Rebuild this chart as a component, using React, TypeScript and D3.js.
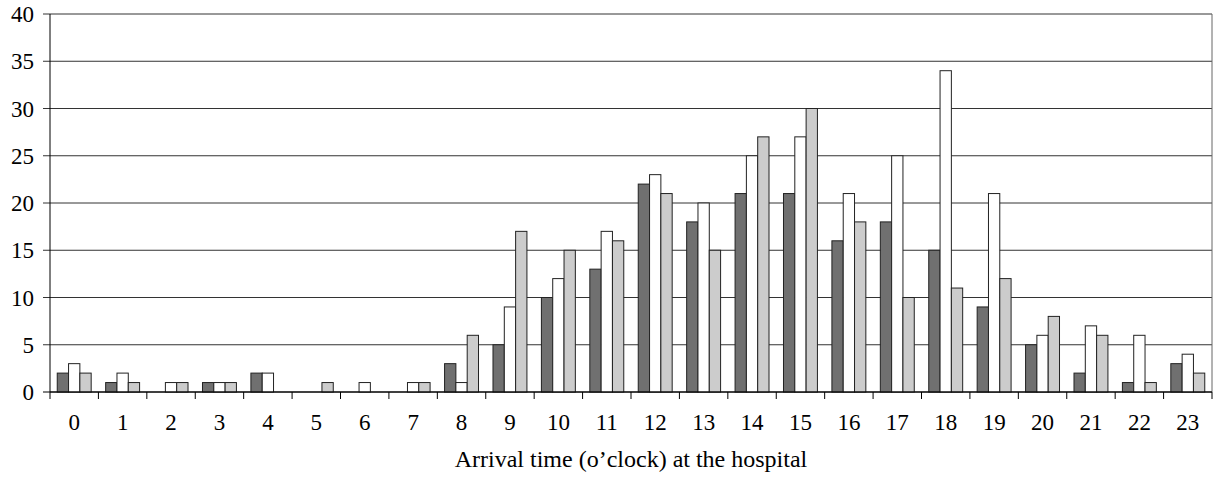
import React from "react";
import * as d3 from "d3";

const hours = ["0","1","2","3","4","5","6","7","8","9","10","11","12","13","14","15","16","17","18","19","20","21","22","23"];
const seriesA = [2,1,0,1,2,0,0,0,3,5,10,13,22,18,21,21,16,18,15,9,5,2,1,3];
const seriesB = [3,2,1,1,2,0,1,1,1,9,12,17,23,20,25,27,21,25,34,21,6,7,6,4];
const seriesC = [2,1,1,1,0,1,0,1,6,17,15,16,21,15,27,30,18,10,11,12,8,6,1,2];
const yTicks = [0,5,10,15,20,25,30,35,40];
const seriesFills = ["#707070", "#ffffff", "#cccccc"];
const xTitle = "Arrival time (o\u2019clock) at the hospital";

const W = 1215, H = 477;
const left = 50, right = 1212, top = 14, bottom = 392;
const fontFamily = "Liberation Serif, Times New Roman, DejaVu Serif, serif";
const textStyle: React.CSSProperties = { fontFamily, fontSize: "23px" };
const titleStyle: React.CSSProperties = { fontFamily, fontSize: "24px" };

export default function App() {
  const x = d3.scaleBand<string>().domain(hours).range([left, right]).paddingInner(0).paddingOuter(0);
  const inner = d3.scaleBand<number>().domain([0,1,2]).range([0, x.bandwidth()]).paddingOuter(0.64).paddingInner(0);
  const y = d3.scaleLinear().domain([0, 40]).range([bottom, top]);
  const series = [seriesA, seriesB, seriesC];

  return (
    <svg width={W} height={H} style={{ position: "absolute", left: 0, top: 0, background: "#fff" }}>
      {yTicks.map((t) => (
        <g key={t}>
          <line x1={left - 7} x2={right} y1={y(t)} y2={y(t)} stroke={t === 0 ? "#000" : "#333"} strokeWidth={1} />
          <text x={34} y={y(t)} dy="0.35em" textAnchor="end" style={textStyle} fill="#000">{t}</text>
        </g>
      ))}
      <line x1={right} x2={right} y1={top} y2={bottom} stroke="#666" />
      {hours.map((h, i) =>
        series.map((s, k) => (
          <rect key={h + "-" + k}
            x={(x(h) as number) + (inner(k) as number)}
            y={y(s[i])}
            width={inner.bandwidth()}
            height={bottom - y(s[i])}
            fill={seriesFills[k]}
            stroke="#222"
            strokeWidth={1}
            style={{ display: s[i] === 0 ? "none" : undefined }}
          />
        ))
      )}
      <line x1={left} x2={left} y1={top} y2={bottom} stroke="#000" />
      <line x1={left} x2={right} y1={bottom} y2={bottom} stroke="#000" />
      {hours.map((h) => (
        <line key={"t" + h} x1={x(h) as number} x2={x(h) as number} y1={bottom} y2={bottom + 7} stroke="#000" />
      ))}
      <line x1={right} x2={right} y1={bottom} y2={bottom + 7} stroke="#000" />
      {hours.map((h) => (
        <text key={"l" + h} x={(x(h) as number) + x.bandwidth() / 2} y={430} textAnchor="middle" style={textStyle} fill="#000">{h}</text>
      ))}
      <text x={(left + right) / 2} y={467} textAnchor="middle" style={titleStyle} fill="#000">{xTitle}</text>
    </svg>
  );
}
